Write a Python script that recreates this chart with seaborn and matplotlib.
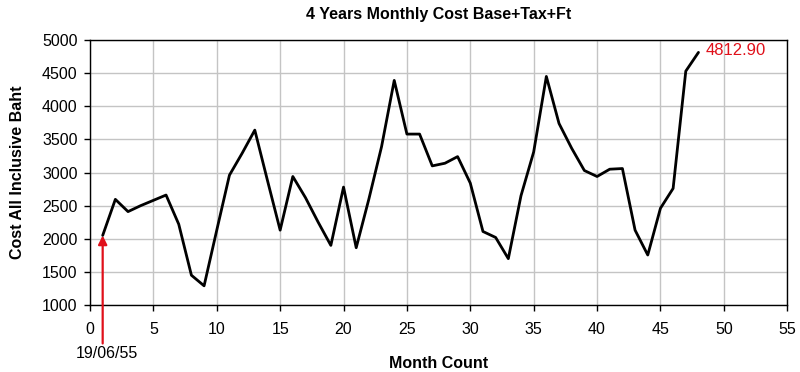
import numpy as np
import pandas as pd
import matplotlib
matplotlib.use("Agg")
import matplotlib.pyplot as plt
import seaborn as sns

# monthly cost (month 1..48)
months = list(range(1, 49))
cost = [2050, 2595, 2410, 2500, 2580, 2660, 2220, 1450, 1290, 2130,
        2960, 3290, 3640, 2880, 2130, 2940, 2620, 2250, 1900, 2780,
        1865, 2600, 3390, 4390, 3580, 3580, 3100, 3140, 3240, 2840,
        2110, 2020, 1700, 2650, 3310, 4450, 3740, 3365, 3030, 2940,
        3050, 3060, 2130, 1755, 2460, 2760, 4530, 4812.90]
start_label = "19/06/55"
x_ticks = list(range(0, 60, 5))
y_ticks = list(range(1000, 5500, 500))

df = pd.DataFrame({"month": months, "cost": cost})

sns.set_style("whitegrid")
plt.rcParams['font.family'] = ['Liberation Sans', 'DejaVu Sans']
plt.rcParams['text.color'] = 'black'
plt.rcParams['axes.labelcolor'] = 'black'
plt.rcParams['xtick.color'] = 'black'
plt.rcParams['ytick.color'] = 'black'

fig, ax = plt.subplots(figsize=(8, 3.72), dpi=100)
fig.subplots_adjust(left=0.1125, right=0.984, top=0.8925, bottom=0.18)

sns.lineplot(data=df, x="month", y="cost", color="black", linewidth=2.0, ax=ax)

ax.set_xlim(0, 55)
ax.set_ylim(1000, 5000)
ax.set_xticks(x_ticks)
ax.set_yticks(y_ticks)
ax.tick_params(axis="both", labelsize=11.5, length=4, width=1,
               direction="out", bottom=True, left=True)
ax.tick_params(axis="x", pad=8)
ax.tick_params(axis="y", pad=5)
ax.grid(True, color="#c4c4c4", linewidth=1)
for s in ax.spines.values():
    s.set_color("black")
    s.set_linewidth(1)

ax.set_title("4 Years Monthly Cost Base+Tax+Ft", fontsize=11.5, fontweight="bold", pad=15)
ax.set_xlabel("Month Count", fontsize=11.5, fontweight="bold", labelpad=14)
ax.set_ylabel("Cost All Inclusive Baht", fontsize=11.5, fontweight="bold", labelpad=12)

# last value label
ax.annotate(f"{cost[-1]:.2f}", xy=(months[-1], cost[-1]), xytext=(5, 1),
            textcoords="offset points", color="#e0101a", fontsize=12,
            va="center", ha="left")

# start-date arrow (vertical) and its label
ax.annotate("", xy=(months[0], cost[0]), xytext=(months[0], 420),
            textcoords="data", annotation_clip=False,
            arrowprops=dict(arrowstyle="-|>", color="#e0101a", lw=1.6,
                            mutation_scale=13, shrinkA=0, shrinkB=0))
ax.text(1.35, 275, start_label, ha="center", va="center", fontsize=11.5,
        clip_on=False)

fig.savefig("out.png", dpi=100)
